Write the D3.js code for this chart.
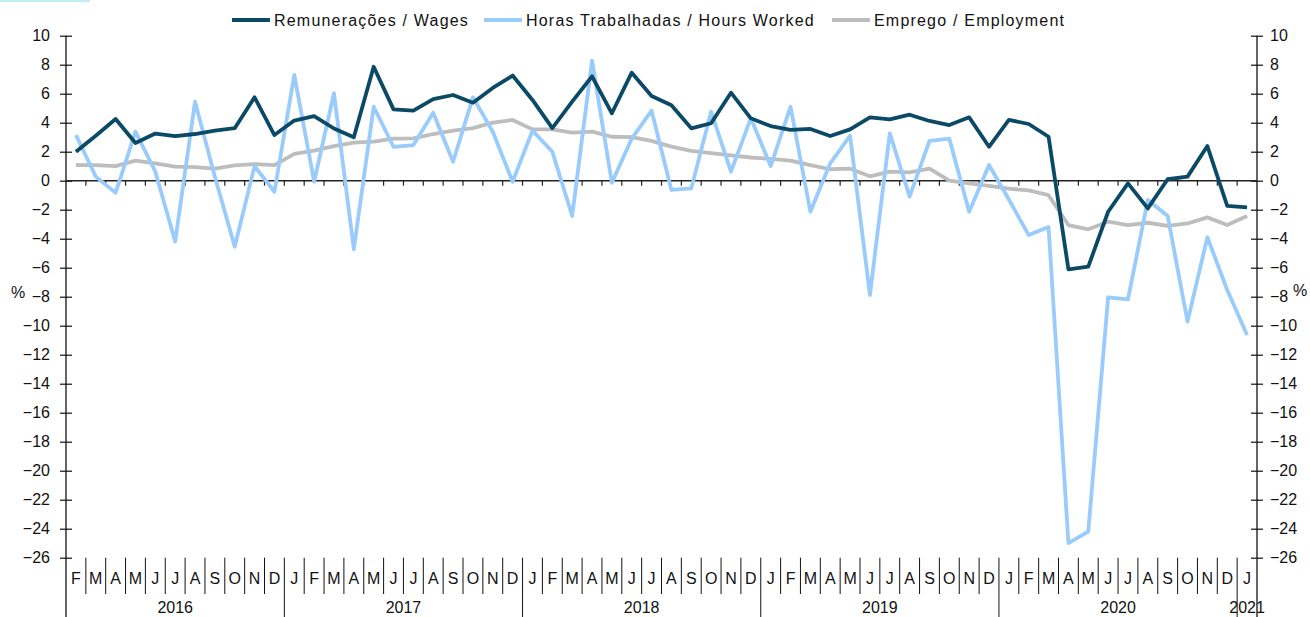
<!DOCTYPE html>
<html>
<head>
<meta charset="utf-8">
<script src="https://cdn.jsdelivr.net/npm/d3@7/dist/d3.min.js"></script>
<style>
	body { margin: 0; background: #fff; }
	svg text { font-family: "Liberation Sans", Arial, sans-serif; fill: #111; }
</style>
</head>
<body>
<div id="chart"></div>
<script>
// months on the category axis (Feb 2016 .. Jan 2021)
const periods = [
	"2016-02","2016-03","2016-04","2016-05","2016-06","2016-07","2016-08","2016-09","2016-10","2016-11","2016-12",
	"2017-01","2017-02","2017-03","2017-04","2017-05","2017-06","2017-07","2017-08","2017-09","2017-10","2017-11","2017-12",
	"2018-01","2018-02","2018-03","2018-04","2018-05","2018-06","2018-07","2018-08","2018-09","2018-10","2018-11","2018-12",
	"2019-01","2019-02","2019-03","2019-04","2019-05","2019-06","2019-07","2019-08","2019-09","2019-10","2019-11","2019-12",
	"2020-01","2020-02","2020-03","2020-04","2020-05","2020-06","2020-07","2020-08","2020-09","2020-10","2020-11","2020-12",
	"2021-01"
];
const monthInitials = ["J","F","M","A","M","J","J","A","S","O","N","D"];
const years = ["2016","2017","2018","2019","2020","2021"];

// Remunerações / Wages (% yoy)
const wages = [
	2.0, 3.1, 4.25, 2.6, 3.25, 3.08, 3.22, 3.45, 3.62, 5.75, 3.15,
	4.15, 4.45, 3.6, 2.99, 7.86, 4.92, 4.83, 5.63, 5.91, 5.38, 6.4, 7.25,
	5.57, 3.62, 5.45, 7.2, 4.65, 7.45, 5.84, 5.2, 3.61, 3.96, 6.07, 4.3,
	3.77, 3.5, 3.57, 3.08, 3.54, 4.37, 4.23, 4.55, 4.12, 3.84, 4.37, 2.34,
	4.19, 3.91, 3.03, -6.11, -5.93, -2.14, -0.18, -1.91, 0.1, 0.28, 2.39, -1.74,
	-1.84
];
// Horas Trabalhadas / Hours Worked
const hours = [
	3.15, 0.28, -0.83, 3.38, 0.62, -4.2, 5.45, 0.28, -4.55, 1.0, -0.76,
	7.29, -0.07, 6.03, -4.73, 5.1, 2.34, 2.46, 4.69, 1.31, 5.75, 3.38, -0.07,
	3.45, 2.0, -2.43, 8.28, -0.14, 2.9, 4.83, -0.64, -0.53, 4.76, 0.62, 4.3,
	1.01, 5.1, -2.14, 1.2, 3.1, -7.88, 3.27, -1.1, 2.74, 2.9, -2.14, 1.08,
	-1.3, -3.75, -3.2, -25.0, -24.2, -8.04, -8.18, -1.33, -2.43, -9.72, -3.9, -7.54,
	-10.64
];
// Emprego / Employment
const employment = [
	1.08, 1.08, 1.0, 1.38, 1.2, 0.97, 0.93, 0.83, 1.05, 1.15, 1.08,
	1.85, 2.07, 2.39, 2.62, 2.69, 2.9, 2.92, 3.22, 3.45, 3.63, 4.0, 4.19,
	3.54, 3.54, 3.31, 3.38, 3.03, 3.0, 2.75, 2.35, 2.05, 1.9, 1.75, 1.6,
	1.5, 1.38, 1.08, 0.79, 0.83, 0.3, 0.62, 0.57, 0.83, 0.0, -0.19, -0.35,
	-0.55, -0.67, -1.0, -3.06, -3.35, -2.83, -3.06, -2.9, -3.12, -2.95, -2.53, -3.06,
	-2.43
];
const yTicks = [10, 8, 6, 4, 2, 0, -2, -4, -6, -8, -10, -12, -14, -16, -18, -20, -22, -24, -26];

const seriesList = [
	{ name: "Emprego / Employment", values: employment, color: "#bdbdbd", legendX: 832 },
	{ name: "Horas Trabalhadas / Hours Worked", values: hours, color: "#99cbfb", legendX: 484 },
	{ name: "Remunerações / Wages", values: wages, color: "#0b4a67", legendX: 232 }
];

// set the dimensions
let W = 1310, H = 617,
	plotLeft = 66, plotRight = 1257,
	plotTop = 35.7, plotBottom = 557.7;

var svg = d3.select("#chart").append("svg")
	.attr("width", W)
	.attr("height", H);

var x = d3.scaleBand().domain(periods).range([plotLeft, plotRight]).padding(0);
var y = d3.scaleLinear().domain([-26, 10]).range([plotBottom, plotTop]);
var xc = d => x(d) + x.bandwidth() / 2;

// small decoration in the top-left corner
svg.append("rect").attr("x", 0).attr("y", 0).attr("width", 90).attr("height", 2).attr("fill", "#bfeff0");

// Left Y axis (ticks crossing the line)
var leftAxis = svg.append("g")
	.attr("transform", "translate(" + plotLeft + ",0)")
	.call(d3.axisLeft(y).tickValues(yTicks).tickSize(6).tickPadding(10).tickSizeOuter(0));
leftAxis.select(".domain").remove();
leftAxis.selectAll(".tick line").attr("x1", 6).attr("stroke", "#111").attr("stroke-width", 1.2);
leftAxis.selectAll(".tick text").style("font-size", "16px").attr("fill", "#111");

// Right Y axis
var rightAxis = svg.append("g")
	.attr("transform", "translate(" + plotRight + ",0)")
	.call(d3.axisRight(y).tickValues(yTicks).tickSize(6).tickPadding(7).tickSizeOuter(0));
rightAxis.select(".domain").remove();
rightAxis.selectAll(".tick line").attr("x1", -6).attr("stroke", "#111").attr("stroke-width", 1.2);
rightAxis.selectAll(".tick text").style("font-size", "16px").attr("fill", "#111");

// Axis lines (extend down through the category rows)
[plotLeft, plotRight].forEach(function (px) {
	svg.append("line")
		.attr("x1", px).attr("x2", px)
		.attr("y1", plotTop).attr("y2", H)
		.attr("stroke", "#111").attr("stroke-width", 1.3);
});

// % labels
svg.append("text").attr("x", 18).attr("y", 298).attr("text-anchor", "middle").style("font-size", "16px").text("%");
svg.append("text").attr("x", 1300).attr("y", 296).attr("text-anchor", "middle").style("font-size", "16px").text("%");

// Horizontal axis line at zero with small ticks between months
svg.append("line")
	.attr("x1", plotLeft).attr("x2", plotRight)
	.attr("y1", y(0)).attr("y2", y(0))
	.attr("stroke", "#222").attr("stroke-width", 1.4);
svg.append("g").selectAll("line")
	.data(periods.slice(1))
	.enter().append("line")
	.attr("x1", d => x(d)).attr("x2", d => x(d))
	.attr("y1", y(0)).attr("y2", y(0) + 5)
	.attr("stroke", "#222").attr("stroke-width", 1.2);

// Category axis at the bottom: month initials and separators
var catG = svg.append("g");
catG.selectAll("line")
	.data(periods.slice(1))
	.enter().append("line")
	.attr("x1", d => x(d)).attr("x2", d => x(d))
	.attr("y1", plotBottom)
	.attr("y2", d => d.slice(5) === "01" ? H : 594)
	.attr("stroke", "#111").attr("stroke-width", 1);
catG.selectAll("text")
	.data(periods)
	.enter().append("text")
	.attr("x", xc)
	.attr("y", 584)
	.attr("text-anchor", "middle")
	.style("font-size", "16px")
	.text(d => monthInitials[+d.slice(5) - 1]);

// Year labels centred under their months
svg.append("g").selectAll("text")
	.data(years)
	.enter().append("text")
	.attr("x", function (yr) {
		let inYear = periods.filter(p => p.slice(0, 4) === yr);
		let x0 = x(inYear[0]), x1 = x(inYear[inYear.length - 1]) + x.bandwidth();
		return (x0 + x1) / 2;
	})
	.attr("y", 613)
	.attr("text-anchor", "middle")
	.style("font-size", "16px")
	.text(d => d);

// The lines
var line = d3.line()
	.x((d, i) => xc(periods[i]))
	.y(d => y(d));

seriesList.forEach(function (s) {
	svg.append("path")
		.datum(s.values)
		.attr("d", line)
		.attr("fill", "none")
		.attr("stroke", s.color)
		.attr("stroke-width", 3.8)
		.attr("stroke-linejoin", "round");
});

// Legend
var legend = svg.append("g");
seriesList.forEach(function (s) {
	legend.append("line")
		.attr("x1", s.legendX).attr("x2", s.legendX + 38)
		.attr("y1", 20).attr("y2", 20)
		.attr("stroke", s.color).attr("stroke-width", 3.8);
	legend.append("text")
		.attr("x", s.legendX + 42)
		.attr("y", 26)
		.style("font-size", "16px")
		.style("letter-spacing", "1.2px")
		.text(s.name);
});
</script>
</body>
</html>
